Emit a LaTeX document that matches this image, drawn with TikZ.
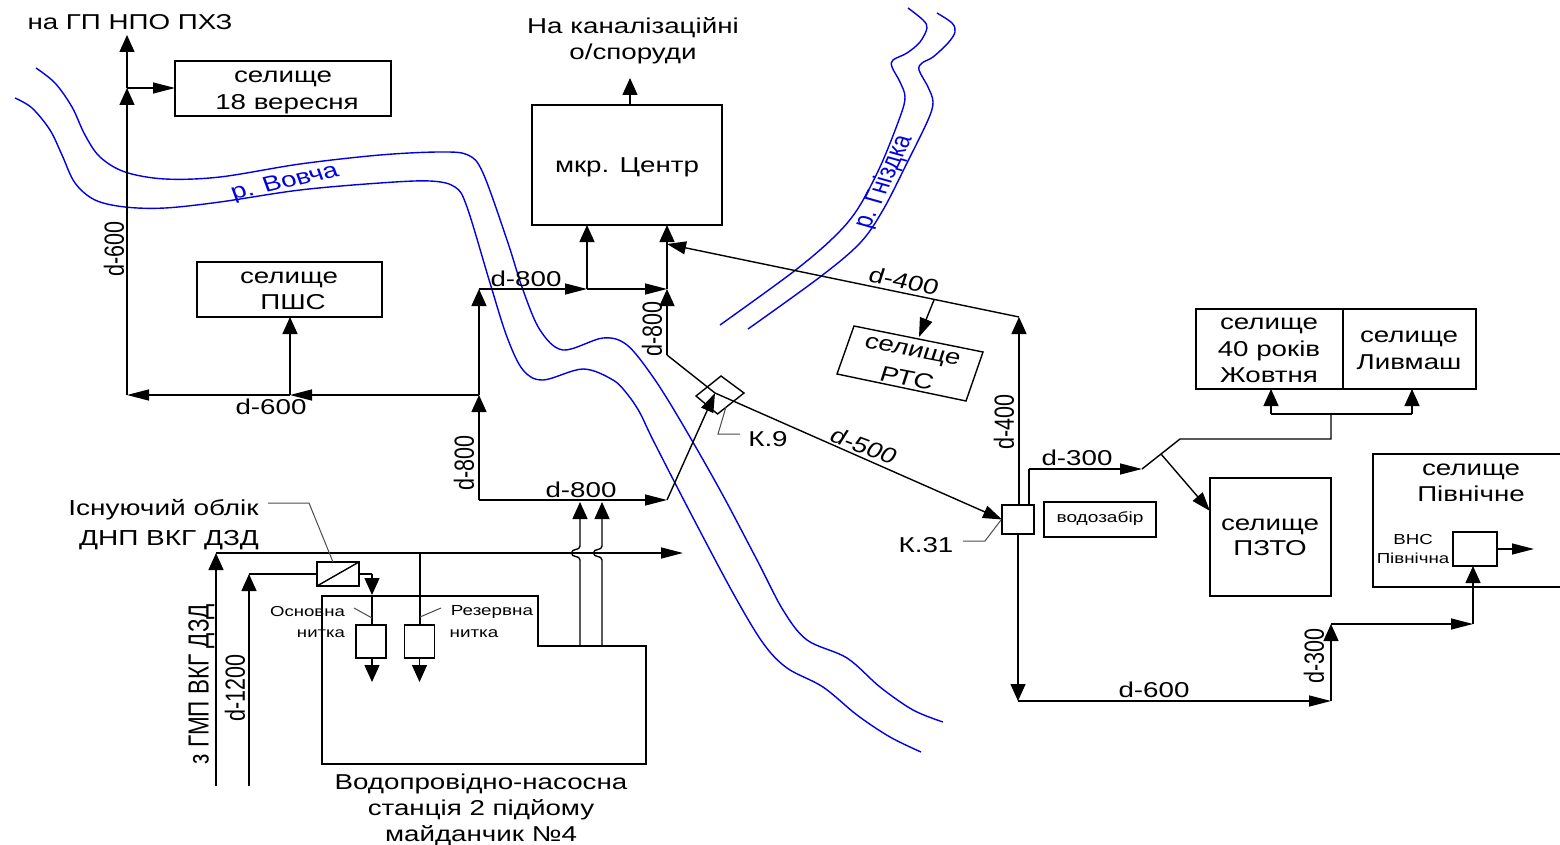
\documentclass[tikz,border=0pt]{standalone}
\usepackage{fontspec}
\setmainfont{Liberation Sans}
\usetikzlibrary{arrows.meta,calc}
\definecolor{riv}{RGB}{0,0,225}
\tikzset{
  ln/.style={line width=1.4pt,draw=black,line join=miter},
  va/.style={ln,-{Triangle[length=17pt,width=15pt]}},
  ha/.style={ln,-{Triangle[length=22pt,width=11pt]}},
  sl/.style={ln,-{Triangle[length=19pt,width=13pt]}},
  lead/.style={line width=1pt,draw=black!70},
  river/.style={draw=riv,line width=1.4pt,smooth,tension=0.55},
  boxst/.style={rectangle,draw=black,line width=1.4pt,fill=white,inner sep=0pt,outer sep=0pt}
}
\newcommand\lb[6]{\node[inner sep=0pt,font=\fontsize{#5}{#5}\selectfont,text=black,xscale=1.29,rotate=#4,transform shape] (#1) at (#2,#3) {#6};}
\newcommand\blb[6]{\node[inner sep=0pt,font=\fontsize{#5}{#5}\selectfont,text=riv,xscale=1.29,rotate=#4,transform shape] (#1) at (#2,#3) {#6};}
\newcommand\bx[5]{\node[boxst,minimum width={(#4-#2)*1pt},minimum height={(#5-#3)*1pt}] (#1) at ({(#2+#4)/2},{(#3+#5)/2}) {};}
\begin{document}
\begin{tikzpicture}[x=1pt,y=-1pt]
\useasboundingbox (0,0) rectangle (1560,845);
% rivers
\draw[river] plot coordinates {(36,68)(55,83)(72,107)(85,135)(100,157)(125,172)(165,179)(220,177)(300,164)(380,155)(440,152)(468,155)(483,173)(507,240)(523,290)(540,330)(563,350)(603,338)(627,345)(653,377)(680,420)(720,490)(757,560)(783,610)(807,640)(847,658)(880,687)(913,710)(943,722)};
\draw[river] plot coordinates {(15,98)(32,108)(50,130)(62,155)(75,183)(95,200)(125,207)(165,208)(220,202)(300,190)(380,183)(430,181)(455,187)(467,207)(490,283)(507,337)(523,370)(543,380)(583,369)(613,380)(628,395)(640,413)(653,440)(690,512)(733,593)(763,643)(787,668)(823,687)(857,715)(890,737)(921,752)};
\draw[river] plot coordinates {(908,8)(923,20)(927,28)(920,42)(907,53)(893,60)(892,67)(900,82)(905,97)(900,117)(880,167)(857,210)(833,238)(793,272)(720,325)};
\draw[river] plot coordinates {(937,13)(952,23)(955,32)(948,43)(933,57)(922,63)(919,70)(928,87)(933,102)(928,120)(907,163)(883,210)(860,243)(820,277)(748,329)};
% boxes
\bx{b18}{175}{61}{391}{116}
\bx{bcen}{532}{105}{722}{225}
\bx{bpsh}{197}{262}{382}{317}
\bx{b40}{1196}{309}{1343}{389}
\bx{bliv}{1343}{309}{1476}{389}
\bx{bpzto}{1210}{478}{1331}{596}
\bx{bwat}{1044}{502}{1156}{537}
% junctions
\coordinate (jtop) at (127,35);
\coordinate (j18) at (127,88);
\coordinate (jw) at (127,395);
\coordinate (jp) at (290,395);
\coordinate (ja) at (479,395);
\coordinate (jb) at (479,289);
\coordinate (jc) at (587,289);
\coordinate (jd) at (667,289);
\coordinate (je) at (479,500);
\coordinate (jf) at (667,500);
\coordinate (jg) at (667,244);
\coordinate (jh) at (667,355);
\coordinate (jk) at (715,393);
\coordinate (jn) at (1019,317);
\coordinate (jr) at (934,300);
\coordinate (js) at (919,337);
\coordinate (jcan) at (630,78);
\coordinate (jm) at (1018,701);
\coordinate (jo) at (1331,701);
\coordinate (jq) at (1331,624);
\coordinate (jt) at (1473,624);
\coordinate (ju) at (1142,469);
\coordinate (jv) at (1180,439);
\coordinate (jx) at (1331,439);
\coordinate (jy) at (1331,414);
\coordinate (jy1) at (1271,414);
\coordinate (jy2) at (1412,414);
\coordinate (jz) at (1161,454);
\coordinate (jzz) at (1210,511);
% left network
\draw[va] (jw) -- (j18);
\draw[va] (j18) -- (jtop);
\draw[ha] (j18) -- (b18.west |- j18);
\draw[ha] (ja) -- (jp);
\draw[ha] (jp) -- (jw);
\draw[va] (jp) -- (bpsh.south -| jp);
\draw[va] (je) -- (ja);
\draw[va] (ja) -- (jb);
\draw[ha] (jb) -- (jc);
\draw[ha] (jc) -- (jd);
\draw[va] (jc) -- (bcen.south -| jc);
\draw[va] (jh) -- (jd);
\draw[va] (jd) -- (bcen.south -| jd);
\draw[ha] (je) -- (jf);
\draw[sl] (jf) -- (jk);
\draw[va] (bcen.north -| jcan) -- (jcan);
\draw[ln] (jh) -- (jk);
% diamond
\coordinate (d1) at (721,376);
\coordinate (d2) at (744,393);
\coordinate (d3) at (717.5,414);
\coordinate (d4) at (696,396);
\draw[ln] (d1) -- (d2) -- (d3) -- (d4) -- cycle;
% K31 and right network
\bx{k31}{1002}{505}{1034}{534}
\draw[sl] (jk) -- (k31.west);
\draw[va] (k31.north -| jn) -- (jn);
\draw[sl] (jn) -- (jg);
\draw[sl] (jr) -- (js);
\draw[va] (k31.south -| jm) -- (jm);
\draw[ha] (jm) -- (jo);
\draw[va] (jo) -- (jq);
\draw[ha] (jq) -- (jt);
\coordinate (k0) at (1029,505);
\coordinate (k1) at (1029,469);
\draw[ln] (k0) -- (k1);
\draw[ha] (k1) -- (ju);
\draw[ln] (ju) -- (jv) -- (jx) -- (jy);
\draw[ln] (jy1) -- (jy2);
\draw[va] (jy1) -- (b40.south -| jy1);
\draw[va] (jy2) -- (bliv.south -| jy2);
\draw[sl] (jz) -- (jzz);
% Pivnichne
\coordinate (pa) at (1560,454);
\coordinate (pb) at (1373,454);
\coordinate (pc) at (1373,587);
\coordinate (pd) at (1560,587);
\draw[ln] (pa) -- (pb) -- (pc) -- (pd);
\bx{bvns}{1453}{532}{1497}{566}
\draw[va] (jt) -- (bvns.south -| jt);
\coordinate (vout) at (1534,549);
\draw[ha] (bvns.east |- vout) -- (vout);
% station
\coordinate (s1) at (322,596);
\coordinate (s2) at (538,596);
\coordinate (s3) at (538,646);
\coordinate (s4) at (646,646);
\coordinate (s5) at (646,764);
\coordinate (s6) at (322,764);
\draw[ln] (s1) -- (s2) -- (s3) -- (s4) -- (s5) -- (s6) -- cycle;
\coordinate (m1) at (216,786);
\coordinate (m2) at (216,553);
\coordinate (m3) at (683,553);
\coordinate (m4) at (249,786);
\coordinate (m5) at (249,574);
\coordinate (m6) at (372,574);
\coordinate (m7) at (372,595);
\coordinate (m8) at (420,553);
\draw[va] (m1) -- (m2);
\draw[ha] (m2) -- (m3);
\draw[va] (m4) -- (m5);
\bx{meter}{317}{562}{359}{586}
\draw[ln] (m5) -- (meter.west |- m5);
\draw[ln] (meter.south west) -- (meter.north east);
\draw[ln] (meter.east |- m6) -- (m6);
\draw[va] (m6) -- (m7);
\bx{n1}{356}{625}{386}{658}
\bx{n2}{404.5}{625}{434.5}{658}
\draw[ln] (m7) -- (n1.north -| m7);
\draw[ln] (m8) -- (n2.north -| m8);
\coordinate (o1) at (372,682);
\coordinate (o2) at (419.5,682);
\draw[va] (n1.south -| o1) -- (o1);
\draw[va] (n2.south -| o2) -- (o2);
% pipes with line jumps
\coordinate (q1) at (580,646);
\coordinate (q1b) at (580,560);
\coordinate (q5) at (571.5,553);
\coordinate (q1c) at (580,546);
\coordinate (q3) at (580,502);
\coordinate (q2) at (602,646);
\coordinate (q2b) at (602,560);
\coordinate (q6) at (593.5,553);
\coordinate (q2c) at (602,546);
\coordinate (q4) at (602,502);
\draw[ln] (q1) -- (q1b) .. controls +(0,-5) and +(0,5) .. (q5);
\draw[va] (q5) .. controls +(0,-5) and +(0,5) .. (q1c) -- (q3);
\draw[ln] (q2) -- (q2b) .. controls +(0,-5) and +(0,5) .. (q6);
\draw[va] (q6) .. controls +(0,-5) and +(0,5) .. (q2c) -- (q4);
% leaders
\coordinate (l1) at (268,503);
\coordinate (l2) at (309,503);
\coordinate (l3) at (333,562);
\draw[lead] (l1) -- (l2) -- (l3);
\coordinate (l4) at (354,608);
\coordinate (l5) at (372,618);
\draw[lead] (l4) -- (l5);
\coordinate (l6) at (441,608);
\coordinate (l7) at (420,617);
\draw[lead] (l6) -- (l7);
\coordinate (l8) at (726,407);
\coordinate (l9) at (718,434);
\coordinate (l10) at (740,434);
\draw[lead] (l8) -- (l9) -- (l10);
\coordinate (l11) at (1001,520);
\coordinate (l12) at (985,541);
\coordinate (l13) at (963,541);
\draw[lead] (l11) -- (l12) -- (l13);
% PTC box
\coordinate (r1) at (854,326);
\coordinate (r2) at (983,352);
\coordinate (r3) at (966,401);
\coordinate (r4) at (837,374);
\draw[ln] (r1) -- (r2) -- (r3) -- (r4) -- cycle;
% labels
\lb{t1}{130}{22}{0}{21.5}{на ГП НПО ПХЗ}
\lb{t2}{283}{78.5}{0}{21.5}{селище}
\lb{t3}{287}{104}{0}{21.5}{18 вересня}
\lb{t4}{114}{249}{90}{21.5}{d-600}
\lb{t5}{633}{28}{0}{21.5}{На каналізаційні}
\lb{t6}{633}{54}{0}{21.5}{о/споруди}
\lb{t7}{627}{167}{0}{21.5}{мкр. Центр}
\lb{t8}{289}{279.5}{0}{21.5}{селище}
\lb{t9}{293}{302}{0}{21.5}{ПШС}
\lb{t10}{526}{279}{0}{21.5}{d-800}
\lb{t11}{652}{329}{90}{21.5}{d-800}
\lb{t12}{904}{281}{-14}{21.5}{d-400}
\lb{t13}{271}{407}{0}{21.5}{d-600}
\lb{t14}{464}{463}{90}{21.5}{d-800}
\lb{t15}{581}{490}{0}{21.5}{d-800}
\lb{t16}{864}{446}{-26}{21.5}{d-500}
\lb{t17}{1004}{422}{90}{21.5}{d-400}
\lb{t18}{1077}{458}{0}{21.5}{d-300}
\lb{t19}{1154}{690}{0}{21.5}{d-600}
\lb{t20}{1314}{656}{90}{21.5}{d-300}
\lb{t21}{1269}{325.5}{0}{21.5}{селище}
\lb{t22}{1269}{351}{0}{21.5}{40 років}
\lb{t23}{1269}{375}{0}{21.5}{Жовтня}
\lb{t24}{1409}{338.5}{0}{21.5}{селище}
\lb{t25}{1409}{362}{0}{21.5}{Ливмаш}
\lb{t26}{1270}{526.5}{0}{21.5}{селище}
\lb{t27}{1270}{548}{0}{21.5}{ПЗТО}
\lb{t28}{1471}{471.5}{0}{21.5}{селище}
\lb{t29}{1471}{494}{0}{21.5}{Північне}
\lb{t30}{1413}{540}{0}{14.5}{ВНС}
\lb{t31}{1413}{558}{0}{14.5}{Північна}
\lb{t32}{1100}{519}{0}{14.8}{водозабір}
\lb{t33}{768}{439}{0}{21.5}{К.9}
\lb{t34}{926}{545}{0}{21.5}{К.31}
\lb{t35}{912}{353}{-14}{21.5}{селище}
\lb{t36}{907}{378}{-14}{21.5}{РТС}
\lb{t37}{163.5}{510}{0}{21.7}{Існуючий облік}
\lb{t38}{169}{540}{0}{21.7}{ДНП ВКГ ДЗД}
\lb{t39}{201.5}{684}{90}{22.5}{з ГМП ВКГ ДЗД}
\lb{t40}{235}{688}{90}{21.5}{d-1200}
\lb{t41}{307.5}{612}{0}{14.4}{Основна}
\lb{t42}{321}{634}{0}{14.4}{нитка}
\lb{t43}{492}{612}{0}{14.6}{Резервна}
\lb{t44}{474}{634}{0}{14.6}{нитка}
\lb{t45}{481}{784}{0}{21.5}{Водопровідно-насосна}
\lb{t46}{481}{810}{0}{21.5}{станція 2 підйому}
\lb{t47}{481}{836}{0}{21.5}{майданчик №4}
\blb{t48}{285}{183}{16}{21.5}{р. Вовча}
\blb{t49}{884}{182}{70}{21.5}{р. Гніздка}
\end{tikzpicture}
\end{document}
